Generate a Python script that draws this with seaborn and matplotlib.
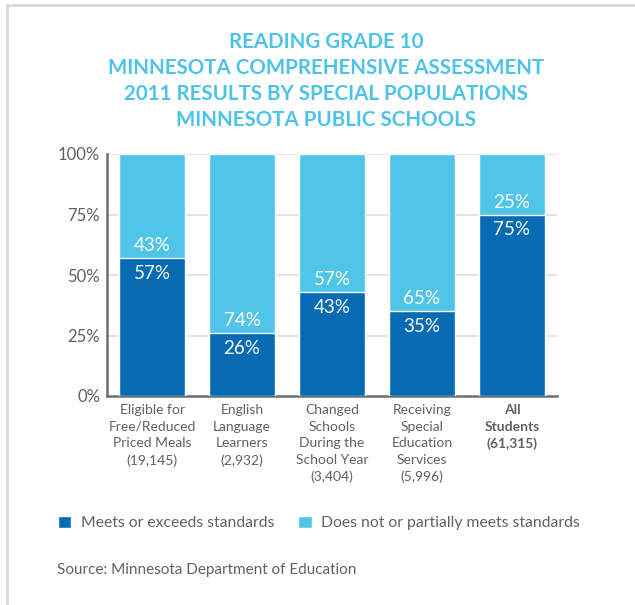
import matplotlib
matplotlib.use('Agg')
import matplotlib.pyplot as plt
import seaborn as sns
import numpy as np
from matplotlib.patches import Rectangle, Patch
from matplotlib.ticker import FixedLocator

sns.set_theme(style='white')
plt.rcParams['font.family'] = ['Lato', 'DejaVu Sans']

# Data
categories = ['Eligible for\nFree/Reduced\nPriced Meals\n(19,145)',
              'English\nLanguage\nLearners\n(2,932)',
              'Changed\nSchools\nDuring the\nSchool Year\n(3,404)',
              'Receiving\nSpecial\nEducation\nServices\n(5,996)',
              'All\nStudents\n(61,315)']
meets = [57, 26, 43, 35, 75]
not_meets = [43, 74, 57, 65, 25]
y_ticks = [0, 25, 50, 75, 100]
title_lines = ['READING GRADE 10',
               'MINNESOTA COMPREHENSIVE ASSESSMENT',
               '2011 RESULTS BY SPECIAL POPULATIONS',
               'MINNESOTA PUBLIC SCHOOLS']
legend_labels = ['Meets or exceeds standards', 'Does not or partially meets standards']

COLORS = {
    'dark': '#066BB3',
    'light': '#4FC5E8',
    'title': '#4DC3E8',
    'text': '#606163',
    'axis': '#6D6E71',
    'grid': '#DEDEDE',
}

fig = plt.figure(figsize=(6.35, 6.05), dpi=100)
fig.patch.set_facecolor('white')

# light grey frame (top and left edges visible)
fig.patches.append(Rectangle((7 / 635, -0.1), 1.2, 1 - 5 / 605 + 0.1,
                             transform=fig.transFigure, fill=False,
                             edgecolor='#D9D9D9', linewidth=2))

ax = fig.add_axes([107 / 635, 1 - 396 / 605, 450 / 635, 242 / 605])

totals = [m + n for m, n in zip(meets, not_meets)]
x = list(range(len(categories)))
sns.barplot(x=x, y=totals, color=COLORS['light'], width=0.73,
            saturation=1, ax=ax, zorder=2)
sns.barplot(x=x, y=meets, color=COLORS['dark'], width=0.73,
            saturation=1, ax=ax, zorder=3)

ax.set_xlim(-0.5, 4.5)
ax.set_ylim(0, 100)

# bar labels
for i, (m, n) in enumerate(zip(meets, not_meets)):
    ax.annotate(f'{m}%', (i, m), xytext=(0, -11), textcoords='offset points',
                ha='center', va='center', color='white', fontsize=13.5, zorder=5)
    ax.annotate(f'{n}%', (i, m), xytext=(0, 9), textcoords='offset points',
                ha='center', va='center', color='white', fontsize=13.5, zorder=5)

# grid
for v in y_ticks[1:]:
    ax.axhline(v, color=COLORS['grid'], linewidth=1.2, zorder=1)

ax.set_yticks(y_ticks)
ax.set_yticklabels([f'{v}%' for v in y_ticks], fontsize=12, color=COLORS['text'])
ax.tick_params(axis='y', length=0, pad=5)

ax.set_xticks(x)
ax.set_xticklabels(categories, fontsize=10, color=COLORS['text'], linespacing=1.45)
ax.tick_params(axis='x', length=0, pad=6)
ax.get_xticklabels()[-1].set_fontweight('bold')
ax.xaxis.set_minor_locator(FixedLocator([0.5, 1.5, 2.5, 3.5, 4.5]))
ax.tick_params(axis='x', which='minor', direction='in', length=5,
               width=1.5, color=COLORS['axis'])
ax.set_xlabel('')
ax.set_ylabel('')

for side in ['top', 'right']:
    ax.spines[side].set_visible(False)
for side in ['left', 'bottom']:
    ax.spines[side].set_color(COLORS['axis'])
    ax.spines[side].set_linewidth(1.8)

# title, one line at a time
for k, line in enumerate(title_lines):
    fig.text(326 / 635, 1 - (42 + 26 * k) / 605, line, ha='center', va='center',
             fontsize=14.8, fontweight='bold', color=COLORS['title'])

# legend
handles = [Patch(facecolor=COLORS['dark'], label=legend_labels[0]),
           Patch(facecolor=COLORS['light'], label=legend_labels[1])]
fig.legend(handles=handles, loc='center left', bbox_to_anchor=(58 / 635, 1 - 523 / 605),
           ncol=2, frameon=False, borderpad=0, borderaxespad=0,
           prop={'size': 11.3}, handlelength=0.85, handleheight=0.85,
           handletextpad=0.6, columnspacing=1.55, labelcolor=COLORS['text'])

fig.text(57 / 635, 1 - 570 / 605, 'Source: Minnesota Department of Education',
         ha='left', va='center', fontsize=11, color=COLORS['text'])

fig.savefig('out.png', dpi=100, facecolor='white')
